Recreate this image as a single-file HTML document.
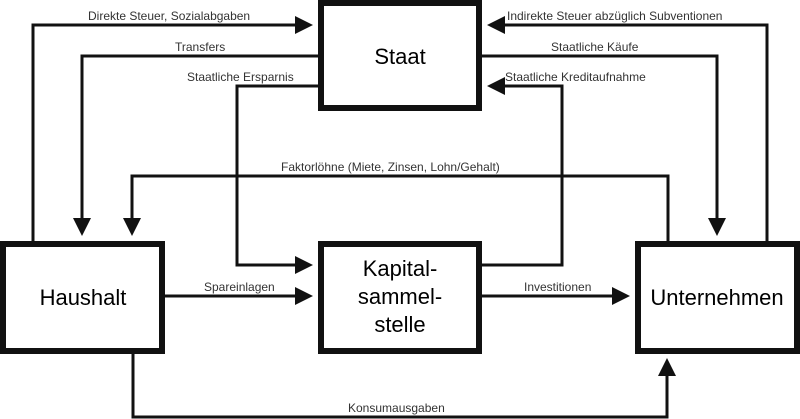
<!DOCTYPE html>
<html><head><meta charset="utf-8"><style>body{margin:0;background:#fff}svg{display:block}text{font-family:"Liberation Sans",Arial,sans-serif}</style></head><body>
<svg width="800" height="419" viewBox="0 0 800 419" xmlns="http://www.w3.org/2000/svg">
<defs><marker id="a" markerWidth="6" markerHeight="6" refX="5" refY="3" orient="auto" markerUnits="strokeWidth"><path d="M0,0 L6,3 L0,6 z" fill="#111"/></marker></defs>
<g fill="none" stroke="#111" stroke-width="3">
<polyline points="33,241 33,25 310,25" marker-end="url(#a)"/>
<polyline points="318,56 82,56 82,233" marker-end="url(#a)"/>
<polyline points="318,86 237,86 237,265 310,265" marker-end="url(#a)"/>
<polyline points="668,241 668,176 132,176 132,233" marker-end="url(#a)"/>
<polyline points="767,241 767,25 490,25" marker-end="url(#a)"/>
<polyline points="482,56 717,56 717,233" marker-end="url(#a)"/>
<polyline points="482,265 562,265 562,86 490,86" marker-end="url(#a)"/>
<polyline points="165,296 310,296" marker-end="url(#a)"/>
<polyline points="482,296 627,296" marker-end="url(#a)"/>
<polyline points="133,353 133,417 667,417 667,361" marker-end="url(#a)"/>
</g>
<g fill="#fff" stroke="#111" stroke-width="6">
<rect x="321" y="3" width="158" height="105"/>
<rect x="3" y="244" width="159" height="107"/>
<rect x="321" y="244" width="158" height="107"/>
<rect x="638" y="244" width="159" height="107"/>
</g>
<g font-size="22" fill="#000" text-anchor="middle">
<text x="400" y="64">Staat</text>
<text x="83" y="305">Haushalt</text>
<text x="400" y="276">Kapital-</text>
<text x="400" y="304">sammel-</text>
<text x="400" y="332">stelle</text>
<text x="717" y="305">Unternehmen</text>
</g>
<g font-size="12" fill="#333">
<text x="88" y="20">Direkte Steuer, Sozialabgaben</text>
<text x="175" y="51">Transfers</text>
<text x="187" y="81">Staatliche Ersparnis</text>
<text x="281" y="171">Faktorlöhne (Miete, Zinsen, Lohn/Gehalt)</text>
<text x="507" y="20">Indirekte Steuer abzüglich Subventionen</text>
<text x="551" y="51">Staatliche Käufe</text>
<text x="505" y="81">Staatliche Kreditaufnahme</text>
<text x="204" y="291">Spareinlagen</text>
<text x="524" y="291">Investitionen</text>
<text x="348" y="412">Konsumausgaben</text>
</g>
</svg>
</body></html>
